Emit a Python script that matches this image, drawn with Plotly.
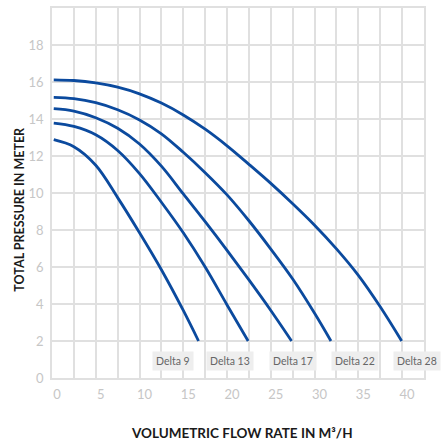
import plotly.graph_objects as go

# flow rate (m3/h) / head (m)
DELTA9_X = [0.2, 2.5, 5, 7.5, 10, 12.5, 15, 16.74]
DELTA9_Y = [12.88, 12.5, 11.5, 9.75, 7.85, 5.85, 3.65, 2.0]

DELTA13_X = [0.2, 2.5, 5, 7.5, 10, 12.5, 15, 17.5, 20, 22.41]
DELTA13_Y = [13.78, 13.6, 13.15, 12.3, 11.05, 9.5, 7.85, 6.0, 3.95, 2.0]

DELTA17_X = [0.2, 2.5, 5, 7.5, 10, 12.5, 15, 17.5, 20, 22.5, 25, 27.37]
DELTA17_Y = [14.56, 14.43, 14.07, 13.5, 12.65, 11.45, 9.95, 8.45, 6.9, 5.3, 3.65, 2.0]

DELTA22_X = [0.2, 2.5, 5, 7.5, 10, 12.5, 15, 17.5, 20, 22.5, 25, 27.5, 30, 31.87]
DELTA22_Y = [15.17, 15.1, 14.88, 14.5, 13.95, 13.2, 12.2, 11.1, 9.9, 8.5, 6.97, 5.35, 3.5, 2.0]

DELTA28_X = [0.2, 2.5, 5, 7.5, 10, 12.5, 15, 17.5, 20, 22.5, 25, 27.5, 30, 32.5, 35, 37.5, 39.95]
DELTA28_Y = [16.12, 16.08, 15.95, 15.72, 15.36, 14.86, 14.22, 13.45, 12.55, 11.55, 10.52, 9.42, 8.26, 6.98, 5.55, 3.85, 2.0]

NAMES = ["Delta 9", "Delta 13", "Delta 17", "Delta 22", "Delta 28"]
SERIES = [
    (DELTA9_X, DELTA9_Y),
    (DELTA13_X, DELTA13_Y),
    (DELTA17_X, DELTA17_Y),
    (DELTA22_X, DELTA22_Y),
    (DELTA28_X, DELTA28_Y),
]

X_TICKS = [0, 5, 10, 15, 20, 25, 30, 35, 40]
Y_TICKS = [0, 2, 4, 6, 8, 10, 12, 14, 16, 18]

LABEL_X = [13.8, 20.3, 27.5, 34.6, 41.7]

BLEU = "#0b4a9e"
GRILLE = "#e0e0e0"
FONTE = "Lato, 'Open Sans', sans-serif"

fig = go.Figure()
for nom, (xs, ys) in zip(NAMES, SERIES):
    fig.add_trace(go.Scatter(
        x=xs,
        y=ys,
        mode="lines",
        name=nom,
        line=dict(color=BLEU, width=2.8, shape="spline", smoothing=1.0),
        showlegend=False,
        hoverinfo="skip",
    ))

for nom, lx in zip(NAMES, LABEL_X):
    fig.add_annotation(
        x=lx, y=0.92, xref="x", yref="y",
        text=nom, showarrow=False,
        font=dict(family=FONTE, size=10.5, color="#666666"),
        bgcolor="#eeeeee", borderpad=3,
    )

fig.add_annotation(
    x=0.51, y=-0.149, xref="paper", yref="paper",
    xanchor="center", yanchor="middle",
    text="<b>VOLUMETRIC FLOW RATE IN M³/H</b>", showarrow=False,
    font=dict(family=FONTE, size=13.5, color="#1a1a1a"),
)
fig.add_annotation(
    x=-0.086, y=0.455, xref="paper", yref="paper",
    xanchor="center", yanchor="middle",
    text="<b>TOTAL PRESSURE IN METER</b>", showarrow=False, textangle=-90,
    font=dict(family=FONTE, size=12.5, color="#1a1a1a"),
)

fig.update_layout(
    width=442,
    height=443,
    margin=dict(l=52, r=18, t=6, b=65),
    plot_bgcolor="white",
    paper_bgcolor="white",
    font=dict(family=FONTE),
    xaxis=dict(
        range=[0, 42.5],
        tickvals=X_TICKS,
        showgrid=True, gridcolor=GRILLE, gridwidth=1.5,
        minor=dict(dtick=2.5, tick0=0, showgrid=True, gridcolor=GRILLE, gridwidth=1.5),
        zeroline=False,
        showline=True, mirror=True, linecolor=GRILLE, linewidth=1.5,
        tickfont=dict(family=FONTE, size=13, color="#c6c6c6"),
        ticklabelshift=5,
        ticklabelstandoff=4,
    ),
    yaxis=dict(
        range=[0, 20],
        tickvals=Y_TICKS,
        showgrid=True, gridcolor=GRILLE, gridwidth=1.5,
        zeroline=False,
        showline=True, mirror=True, linecolor=GRILLE, linewidth=1.5,
        tickfont=dict(family=FONTE, size=13, color="#c6c6c6"),
        ticklabelstandoff=4,
    ),
)

fig.write_html(
    "out.html",
    config={"displayModeBar": False},
    post_script="document.body.style.margin='0';",
)
